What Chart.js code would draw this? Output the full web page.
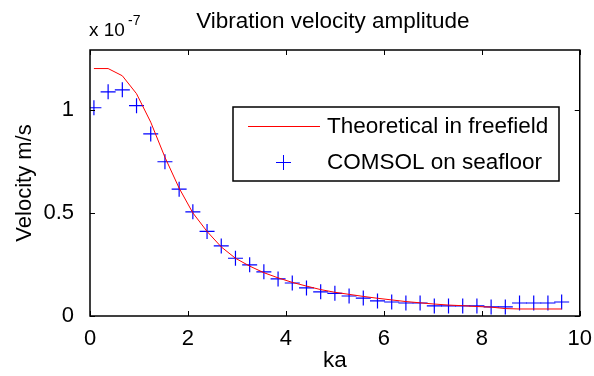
<!DOCTYPE html>
<html>
<head>
<meta charset="utf-8">
<script src="https://cdn.jsdelivr.net/npm/chart.js@4"></script>
<style>
  html, body { margin: 0; padding: 0; background: #fff; }
  #wrap { width: 594px; height: 376px; }
</style>
</head>
<body>
<div id="wrap"><canvas id="velocityChart" width="594" height="376"></canvas></div>
<script>
// ka values (same grid for both series)
const ka = [0.08, 0.37, 0.66, 0.95, 1.24, 1.53, 1.82, 2.10, 2.39, 2.68, 2.97, 3.26, 3.55, 3.84, 4.13, 4.42, 4.71,
            5.00, 5.29, 5.58, 5.87, 6.16, 6.45, 6.74, 7.03, 7.32, 7.61, 7.90, 8.19, 8.48, 8.77, 9.06, 9.35, 9.63];

// velocity, units of 1e-7 m/s
const theoretical = [1.20, 1.20, 1.165, 1.078, 0.94, 0.77, 0.62, 0.50, 0.41, 0.335, 0.28, 0.242, 0.21, 0.185, 0.163, 0.145, 0.128,
                     0.115, 0.105, 0.095, 0.086, 0.078, 0.070, 0.064, 0.058, 0.053, 0.050, 0.046, 0.043, 0.036, 0.034, 0.034, 0.034, 0.034];
const comsol = [1.01, 1.087, 1.097, 1.02, 0.883, 0.748, 0.615, 0.505, 0.41, 0.34, 0.28, 0.248, 0.214, 0.18, 0.16, 0.136, 0.117,
                0.11, 0.097, 0.087, 0.073, 0.068, 0.063, 0.063, 0.049, 0.049, 0.049, 0.049, 0.044, 0.044, 0.063, 0.063, 0.063, 0.068];

const xTicks = [0, 2, 4, 6, 8, 10];
const yTicks = [0, 0.5, 1];
const yTickLabels = ['0', '0.5', '1'];

const FONT = '"Liberation Sans", Arial, sans-serif';

// frame, inward ticks, titles and legend like the matlab figure
const matlabAxes = {
  id: 'matlabAxes',
  afterDraw(chart) {
    const ctx = chart.ctx;
    const a = chart.chartArea;
    const xs = chart.scales.x, ys = chart.scales.y;
    ctx.save();
    ctx.strokeStyle = '#000';
    ctx.lineWidth = 1;
    xTicks.forEach(v => {
      const px = Math.round(xs.getPixelForValue(v)) + 0.5;
      ctx.beginPath();
      ctx.moveTo(px, a.bottom); ctx.lineTo(px, a.bottom - 5);
      ctx.moveTo(px, a.top); ctx.lineTo(px, a.top + 5);
      ctx.stroke();
    });
    yTicks.forEach(v => {
      const py = Math.round(ys.getPixelForValue(v)) + 0.5;
      ctx.beginPath();
      ctx.moveTo(a.left, py); ctx.lineTo(a.left + 5, py);
      ctx.moveTo(a.right, py); ctx.lineTo(a.right - 5, py);
      ctx.stroke();
    });
    ctx.lineWidth = 1.5;
    ctx.strokeRect(a.left, a.top, a.right - a.left, a.bottom - a.top);

    ctx.fillStyle = '#000';
    ctx.textBaseline = 'middle';
    ctx.textAlign = 'center';
    ctx.font = '22.5px ' + FONT;
    ctx.fillText('Vibration velocity amplitude', (a.left + a.right) / 2 - 2, 22);
    ctx.fillText('ka', (a.left + a.right) / 2, 361);

    ctx.textAlign = 'left';
    ctx.font = '19px ' + FONT;
    ctx.fillText('x 10', 89, 31);
    ctx.font = '14px ' + FONT;
    ctx.fillText('-7', 128, 21);

    ctx.save();
    ctx.translate(25, (a.top + a.bottom) / 2);
    ctx.rotate(-Math.PI / 2);
    ctx.textAlign = 'center';
    ctx.font = '22px ' + FONT;
    ctx.fillText('Velocity m/s', 0, 0);
    ctx.restore();

    // legend
    const lx = 233, ly = 107, lw = 326, lh = 74;
    ctx.fillStyle = '#fff';
    ctx.fillRect(lx, ly, lw, lh);
    ctx.lineWidth = 1.5;
    ctx.strokeRect(lx, ly, lw, lh);
    const d0 = chart.data.datasets[0], d1 = chart.data.datasets[1];
    ctx.strokeStyle = d0.borderColor;
    ctx.lineWidth = 1;
    ctx.beginPath();
    ctx.moveTo(248, 126.5); ctx.lineTo(320, 126.5);
    ctx.stroke();
    ctx.strokeStyle = d1.borderColor;
    ctx.beginPath();
    ctx.moveTo(276, 162.5); ctx.lineTo(291, 162.5);
    ctx.moveTo(283.5, 155); ctx.lineTo(283.5, 170);
    ctx.stroke();
    ctx.fillStyle = '#000';
    ctx.textAlign = 'left';
    ctx.font = '22.5px ' + FONT;
    ctx.fillText(d0.label, 327, 127);
    ctx.fillText(d1.label, 327, 163);
    ctx.restore();
  }
};

new Chart(document.getElementById('velocityChart'), {
  type: 'line',
  data: {
    datasets: [
      {
        label: 'Theoretical in freefield',
        data: ka.map((k, i) => ({ x: k, y: theoretical[i] })),
        borderColor: '#ff0000',
        borderWidth: 1,
        pointRadius: 0,
        fill: false,
        tension: 0
      },
      {
        label: 'COMSOL on seafloor',
        data: ka.map((k, i) => ({ x: k, y: comsol[i] })),
        showLine: false,
        borderColor: '#0000ff',
        backgroundColor: '#0000ff',
        pointStyle: 'cross',
        pointRadius: 7.5,
        pointBorderWidth: 1.2
      }
    ]
  },
  options: {
    responsive: false,
    animation: false,
    events: [],
    layout: { padding: { top: 50, right: 14, left: 0, bottom: 0 } },
    plugins: { legend: { display: false }, tooltip: { enabled: false } },
    scales: {
      x: {
        type: 'linear',
        min: 0, max: 10,
        afterBuildTicks: s => { s.ticks = xTicks.map(v => ({ value: v })); },
        afterFit: s => { s.height = 60; },
        grid: { display: false },
        border: { display: false },
        ticks: { color: '#000', font: { family: FONT, size: 22 }, padding: 2, maxRotation: 0 }
      },
      y: {
        min: 0, max: 1.29,
        afterBuildTicks: s => { s.ticks = yTicks.map(v => ({ value: v })); },
        afterFit: s => { s.width = 90; },
        grid: { display: false },
        border: { display: false },
        ticks: {
          color: '#000', font: { family: FONT, size: 22 }, padding: 8,
          callback: (v, i) => yTickLabels[i]
        }
      }
    }
  },
  plugins: [matlabAxes]
});
</script>
</body>
</html>
